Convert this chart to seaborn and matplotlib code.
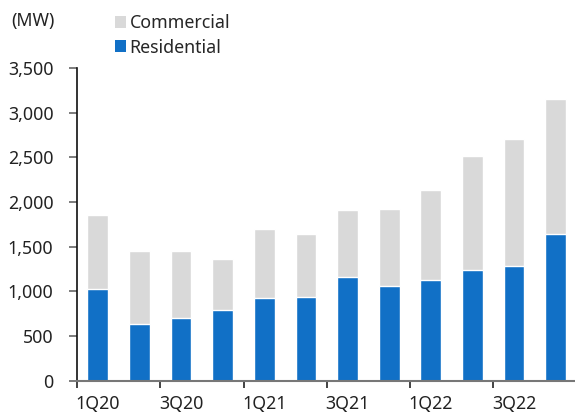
import matplotlib
matplotlib.use("Agg")
import matplotlib.pyplot as plt
import seaborn as sns
import numpy as np
from matplotlib.patches import Patch
from matplotlib.ticker import FixedLocator, FuncFormatter

quarters = ["1Q20", "2Q20", "3Q20", "4Q20", "1Q21", "2Q21", "3Q21", "4Q21",
            "1Q22", "2Q22", "3Q22", "4Q22"]
residential = [1026, 634, 705, 794, 921, 936, 1156, 1059, 1130, 1242, 1286, 1641]
commercial = [827, 813, 746, 571, 772, 710, 750, 865, 1003, 1275, 1421, 1507]
yticks = [0, 500, 1000, 1500, 2000, 2500, 3000, 3500]

BLUE = "#1170C6"
GRAY = "#D9D9D9"
FS = 12.8

sns.set_style("white")
plt.rcParams["font.family"] = ["Noto Sans", "DejaVu Sans"]
plt.rcParams["font.size"] = FS

totals = [r + c for r, c in zip(residential, commercial)]

fig = plt.figure(figsize=(5.75, 4.12), dpi=100)
ax = fig.add_axes([77 / 575, 31.3 / 412, 499.5 / 575, 312.9 / 412])

sns.barplot(x=quarters, y=totals, color=GRAY, saturation=1, width=0.5, ax=ax, zorder=2)
sns.barplot(x=quarters, y=residential, color=BLUE, saturation=1, width=0.5, ax=ax, zorder=3)

ax.set_xlim(-0.5, 11.5)
ax.set_ylim(0, 3500)
ax.set_yticks(yticks)
ax.yaxis.set_major_formatter(FuncFormatter(lambda v, p: f"{int(v):,}"))
ax.set_xlabel("")
ax.set_ylabel("")

ax.set_xticks(range(0, 12, 2))
ax.set_xticklabels(quarters[::2])
ax.xaxis.set_minor_locator(FixedLocator([-0.5, 1.5, 3.5, 5.5, 7.5, 9.5]))
ax.tick_params(axis="x", which="major", length=0, pad=10.5, labelsize=FS, colors="#222222")
ax.tick_params(axis="x", which="minor", length=5, width=1.2, direction="out", color="#222222", bottom=True)
ax.tick_params(axis="y", length=6, width=1.2, direction="out", pad=11, labelsize=FS,
               color="#666666", labelcolor="#222222", left=True)

for s in ["top", "right"]:
    ax.spines[s].set_visible(False)
ax.spines["left"].set_color("#111111")
ax.spines["left"].set_linewidth(1.2)
ax.spines["bottom"].set_color("#777777")
ax.spines["bottom"].set_linewidth(1.5)
ax.spines["bottom"].set_zorder(5)

fig.text(11 / 575, 1 - 21 / 412, "(MW)", ha="left", va="center", fontsize=FS, color="#222222")

handles = [Patch(facecolor=GRAY, edgecolor="none", label="Commercial"),
           Patch(facecolor=BLUE, edgecolor="none", label="Residential")]
fig.legend(handles=handles, loc="upper left", bbox_to_anchor=(108 / 575, 1 - 7 / 412),
           frameon=False, handlelength=0.62, handleheight=0.62, handletextpad=0.2,
           labelspacing=0.36, fontsize=FS, borderaxespad=0)

fig.savefig("out.png", dpi=100)
